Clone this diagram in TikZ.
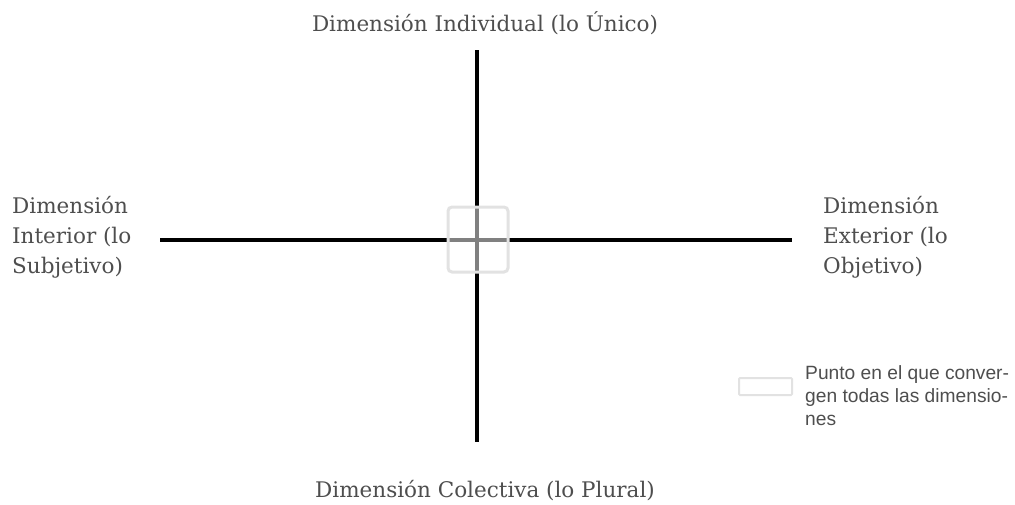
\documentclass[tikz,border=0pt]{standalone}
\usepackage{fontspec}
\setmainfont{DejaVu Serif}
\newfontfamily\legendfont{Liberation Sans}
\definecolor{labelgray}{HTML}{4E4E4E}
\definecolor{boxgray}{HTML}{E2E2E2}
\tikzset{
  axis/.style={line width=3.2pt},
  dimlabel/.style={text=labelgray,font=\fontsize{21.5}{30}\selectfont,inner sep=0pt},
  meetbox/.style={draw=boxgray,line width=3pt,rounded corners=4pt,fill=white,fill opacity=.5},
}
\begin{document}
\begin{tikzpicture}[x=1pt,y=-1pt]
\useasboundingbox (0,0) rectangle (1015,504);
% axes
\coordinate (top) at (477,50); \coordinate (bot) at (477,442);
\coordinate (lft) at (160,240); \coordinate (rgt) at (792,240);
\draw[axis] (top)--(bot);
\draw[axis] (lft)--(rgt);
\draw[meetbox] (448,207) rectangle (508,272);
% labels
\node[dimlabel] (indiv) at (485,23) {Dimensión Individual (lo Único)};
\node[dimlabel] (colec) at (485,491) {Dimensión Colectiva (lo Plural)};
\node[dimlabel,anchor=west,align=left] (inter) at (12,237) {Dimensión\\Interior (lo\\Subjetivo)};
\node[dimlabel,anchor=west,align=left] (exter) at (823,237) {Dimensión\\Exterior (lo\\Objetivo)};
% legend
\draw[boxgray,line width=2pt,rounded corners=1pt] (739,378) rectangle (792,395);
\node[anchor=west,align=left,inner sep=0pt,text=labelgray,font=\legendfont\fontsize{19.2}{23}\selectfont] (leyenda) at (805,396) {Punto en el que conver-\\gen todas las dimensio-\\nes};
\end{tikzpicture}
\end{document}
